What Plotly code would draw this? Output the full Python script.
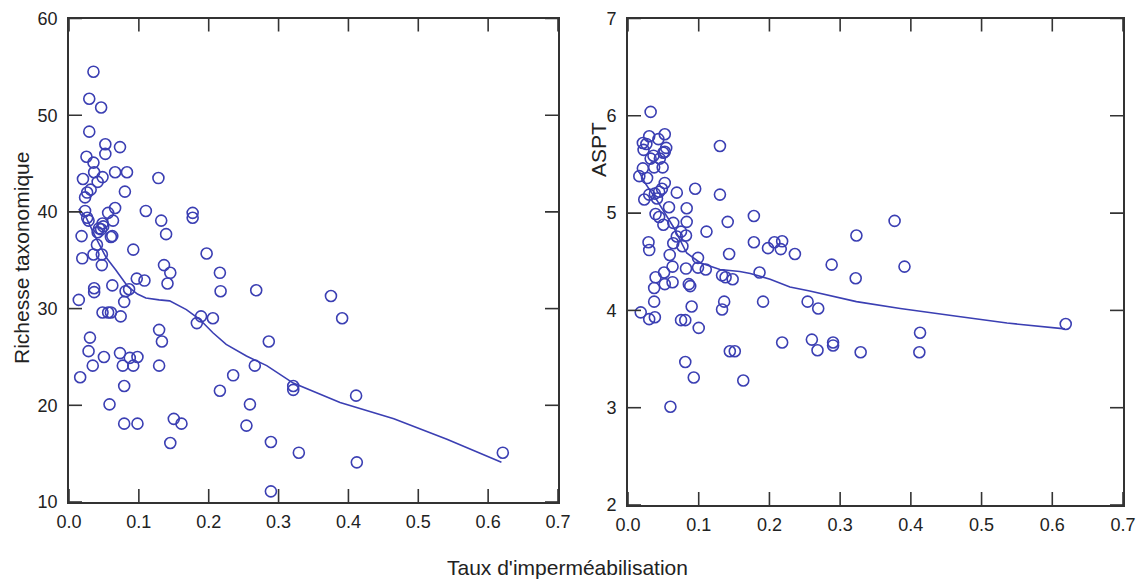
import plotly.graph_objects as go

# ---- Data: left panel (Richesse taxonomique vs Taux d'imperméabilisation)
rich_x = [0.035, 0.029, 0.046, 0.029, 0.052, 0.073, 0.052, 0.025, 0.035, 0.020,
          0.036, 0.066, 0.083, 0.128, 0.048, 0.041, 0.031, 0.026, 0.023, 0.080,
          0.023, 0.066, 0.056, 0.110, 0.132, 0.177, 0.177, 0.026, 0.028, 0.063,
          0.018, 0.041, 0.046, 0.049, 0.060, 0.062, 0.139, 0.040, 0.092, 0.197,
          0.019, 0.035, 0.047, 0.047, 0.136, 0.145, 0.141, 0.216, 0.217, 0.268,
          0.062, 0.036, 0.036, 0.014, 0.079, 0.081, 0.086, 0.097, 0.108, 0.048,
          0.056, 0.060, 0.074, 0.189, 0.183, 0.206, 0.129, 0.133, 0.286, 0.030,
          0.028, 0.034, 0.050, 0.073, 0.087, 0.098, 0.077, 0.092, 0.129, 0.266,
          0.235, 0.016, 0.079, 0.216, 0.058, 0.259, 0.079, 0.098, 0.150, 0.161,
          0.254, 0.145, 0.289, 0.289, 0.375, 0.391, 0.321, 0.321, 0.411, 0.329,
          0.412, 0.621, 0.048, 0.043]
rich_y = [54.5, 51.7, 50.8, 48.3, 47.0, 46.7, 46.0, 45.7, 45.1, 43.4,
          44.1, 44.1, 44.1, 43.5, 43.6, 43.1, 42.3, 42.0, 41.5, 42.1,
          40.1, 40.4, 39.9, 40.1, 39.1, 39.9, 39.4, 39.4, 39.1, 39.1,
          37.5, 37.9, 38.2, 38.5, 37.4, 37.5, 37.7, 36.6, 36.1, 35.7,
          35.2, 35.6, 35.6, 34.5, 34.5, 33.7, 32.6, 33.7, 31.8, 31.9,
          32.4, 32.1, 31.7, 30.9, 30.7, 31.8, 32.0, 33.1, 32.9, 29.6,
          29.6, 29.6, 29.2, 29.2, 28.5, 29.0, 27.8, 26.6, 26.6, 27.0,
          25.6, 24.1, 25.0, 25.4, 24.9, 25.0, 24.1, 24.1, 24.1, 24.1,
          23.1, 22.9, 22.0, 21.5, 20.1, 20.1, 18.1, 18.1, 18.6, 18.1,
          17.9, 16.1, 16.2, 11.1, 31.3, 29.0, 22.0, 21.6, 21.0, 15.1,
          14.1, 15.1, 38.8, 38.3]

# smoothed trend (left)
rich_fit_x = [0.014, 0.024, 0.038, 0.053, 0.067, 0.084, 0.098, 0.110, 0.129, 0.144,
              0.168, 0.187, 0.206, 0.225, 0.254, 0.283, 0.321, 0.388, 0.465, 0.541, 0.619]
rich_fit_y = [40.3, 39.5, 37.4, 35.3, 34.0, 32.3, 31.5, 31.1, 30.9, 30.8,
              29.9, 28.9, 27.5, 26.3, 25.1, 24.1, 22.3, 20.3, 18.6, 16.5, 14.1]

# ---- Data: right panel (ASPT)
aspt_x = [0.032, 0.030, 0.043, 0.052, 0.021, 0.026, 0.022, 0.054, 0.052, 0.050,
          0.036, 0.032, 0.045, 0.021, 0.016, 0.027, 0.037, 0.049, 0.052, 0.048,
          0.044, 0.038, 0.030, 0.023, 0.041, 0.069, 0.095, 0.130, 0.130, 0.039,
          0.044, 0.050, 0.058, 0.083, 0.064, 0.083, 0.141, 0.178, 0.075, 0.069,
          0.064, 0.082, 0.111, 0.029, 0.030, 0.077, 0.178, 0.198, 0.207, 0.218,
          0.216, 0.236, 0.059, 0.099, 0.143, 0.063, 0.082, 0.099, 0.110, 0.051,
          0.039, 0.052, 0.063, 0.037, 0.133, 0.138, 0.148, 0.186, 0.086, 0.088,
          0.037, 0.090, 0.136, 0.133, 0.191, 0.018, 0.030, 0.038, 0.075, 0.081,
          0.100, 0.254, 0.269, 0.218, 0.260, 0.268, 0.144, 0.151, 0.081, 0.093,
          0.163, 0.060, 0.377, 0.323, 0.288, 0.391, 0.322, 0.413, 0.619, 0.290,
          0.290, 0.329, 0.412]
aspt_y = [6.04, 5.79, 5.76, 5.81, 5.72, 5.71, 5.65, 5.67, 5.63, 5.62,
          5.59, 5.56, 5.56, 5.46, 5.38, 5.36, 5.47, 5.47, 5.31, 5.25,
          5.22, 5.20, 5.19, 5.14, 5.15, 5.21, 5.25, 5.69, 5.19, 4.99,
          4.96, 4.88, 5.06, 5.05, 4.90, 4.91, 4.91, 4.97, 4.81, 4.76,
          4.69, 4.77, 4.81, 4.70, 4.62, 4.66, 4.70, 4.64, 4.70, 4.71,
          4.63, 4.58, 4.57, 4.54, 4.58, 4.45, 4.43, 4.44, 4.42, 4.39,
          4.34, 4.27, 4.29, 4.23, 4.36, 4.34, 4.32, 4.39, 4.27, 4.25,
          4.09, 4.04, 4.09, 4.01, 4.09, 3.98, 3.91, 3.93, 3.90, 3.90,
          3.82, 4.09, 4.02, 3.67, 3.70, 3.59, 3.58, 3.58, 3.47, 3.31,
          3.28, 3.01, 4.92, 4.77, 4.47, 4.45, 4.33, 3.77, 3.86, 3.67,
          3.64, 3.57, 3.57]

# smoothed trend (right)
aspt_fit_x = [0.016, 0.024, 0.041, 0.064, 0.083, 0.102, 0.130, 0.158, 0.173, 0.201,
              0.229, 0.257, 0.323, 0.385, 0.465, 0.536, 0.618]
aspt_fit_y = [5.42, 5.31, 5.13, 4.86, 4.59, 4.49, 4.42, 4.40, 4.38, 4.32,
              4.24, 4.20, 4.09, 4.02, 3.94, 3.87, 3.81]

x_ticks = [0.0, 0.1, 0.2, 0.3, 0.4, 0.5, 0.6, 0.7]
x_tick_labels = ["0.0", "0.1", "0.2", "0.3", "0.4", "0.5", "0.6", "0.7"]
rich_ticks = [10, 20, 30, 40, 50, 60]
aspt_ticks = [2, 3, 4, 5, 6, 7]

BLUE = "#3b3fb3"
AX = "#333333"
OFF = 8  # default page margin of the HTML body
W, H = 1148 - OFF, 586 - OFF
FONT = "Liberation Sans, Arial, sans-serif"
TICK_PX = 13

fig = go.Figure()
marker = dict(symbol="circle-open", size=11, color=BLUE, line=dict(width=1.6, color=BLUE))
fig.add_trace(go.Scatter(x=rich_x, y=rich_y, mode="markers", marker=marker,
                         xaxis="x", yaxis="y", showlegend=False))
fig.add_trace(go.Scatter(x=rich_fit_x, y=rich_fit_y, mode="lines",
                         line=dict(color=BLUE, width=1.6), xaxis="x", yaxis="y",
                         showlegend=False))
fig.add_trace(go.Scatter(x=aspt_x, y=aspt_y, mode="markers", marker=marker,
                         xaxis="x2", yaxis="y2", showlegend=False))
fig.add_trace(go.Scatter(x=aspt_fit_x, y=aspt_fit_y, mode="lines",
                         line=dict(color=BLUE, width=1.6), xaxis="x2", yaxis="y2",
                         showlegend=False))

def axis_style(gap):
    # invisible outside ticks only create the gap between axis line and labels
    return dict(showline=True, linecolor=AX, linewidth=1.6, mirror=True,
                ticks="outside", ticklen=gap, tickwidth=1, tickcolor="rgba(0,0,0,0)",
                tickmode="array", showgrid=False, zeroline=False, automargin=False,
                tickfont=dict(family=FONT, size=18, color="#222"))

def fx(px):
    return (px - OFF) / W

def fy(py):
    return 1 - (py - OFF) / H

dom = {
    "x": [fx(69), fx(558)], "y": [fy(502), fy(18.5)],
    "x2": [fx(628), fx(1123)], "y2": [fy(505), fy(18.5)],
}

# inside tick marks on all four sides, positioned through the axes' own scales
shapes = []
for xa, ya, yt in (("x", "y", rich_ticks), ("x2", "y2", aspt_ticks)):
    pw = (dom[xa][1] - dom[xa][0]) * W
    ph = (dom[ya][1] - dom[ya][0]) * H
    fxl = TICK_PX / ph
    fyl = TICK_PX / pw
    for t in x_ticks:
        for y0, y1 in ((0, fxl), (1, 1 - fxl)):
            shapes.append(dict(type="line", xref=xa, yref=ya + " domain", x0=t, x1=t,
                               y0=y0, y1=y1, line=dict(color=AX, width=1.6)))
    for t in yt:
        for x0, x1 in ((0, fyl), (1, 1 - fyl)):
            shapes.append(dict(type="line", xref=xa + " domain", yref=ya, x0=x0, x1=x1,
                               y0=t, y1=t, line=dict(color=AX, width=1.6)))

title_font = dict(family=FONT, size=21, color="#222")

fig.update_layout(
    template="none",
    width=W, height=H,
    margin=dict(l=0, r=0, t=0, b=0),
    plot_bgcolor="white", paper_bgcolor="white",
    xaxis=dict(domain=dom["x"], range=[0, 0.7], tickvals=x_ticks,
               ticktext=x_tick_labels, anchor="y", **axis_style(3)),
    yaxis=dict(domain=dom["y"], range=[10, 60], tickvals=rich_ticks,
               anchor="x", **axis_style(6)),
    xaxis2=dict(domain=dom["x2"], range=[0, 0.7], tickvals=x_ticks,
                ticktext=x_tick_labels, anchor="y2", **axis_style(3)),
    yaxis2=dict(domain=dom["y2"], range=[2, 7], tickvals=aspt_ticks,
                anchor="x2", **axis_style(6)),
    shapes=shapes,
    annotations=[
        dict(text="Richesse taxonomique", x=fx(22), y=fy(258), xref="paper", yref="paper",
             xanchor="center", yanchor="middle",
             showarrow=False, textangle=-90, font=title_font),
        dict(text="ASPT", x=fx(598), y=fy(150), xref="paper", yref="paper",
             xanchor="center", yanchor="middle",
             showarrow=False, textangle=-90, font=title_font),
        dict(text="Taux d'imperméabilisation", x=fx(567), y=fy(567), xref="paper",
             yref="paper", xanchor="center", yanchor="middle",
             showarrow=False, font=title_font),
    ],
)

fig.write_html("out.html")
